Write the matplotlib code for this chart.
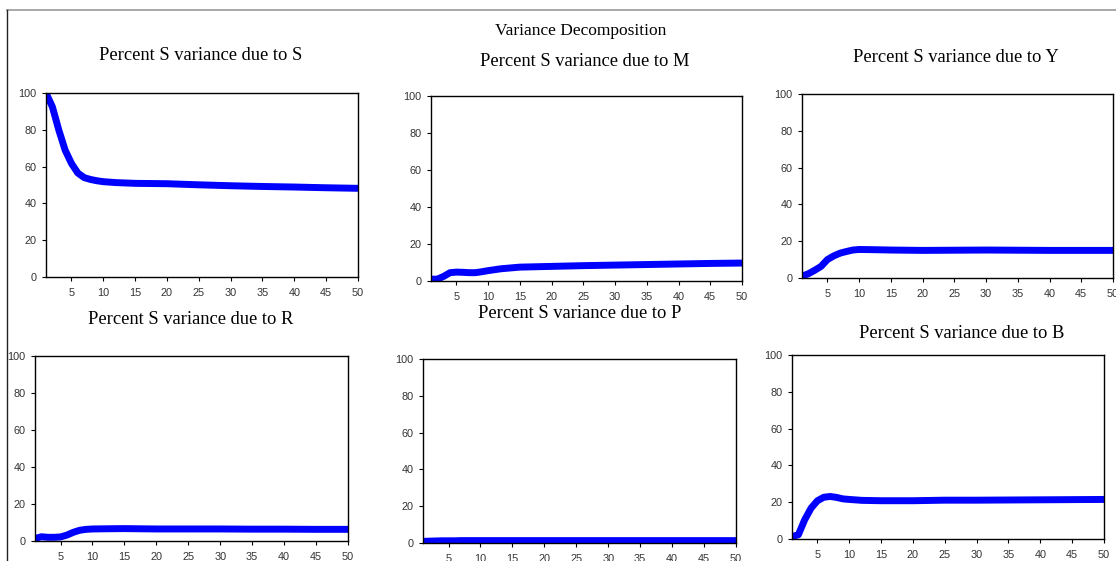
import numpy as np
import matplotlib
matplotlib.use("Agg")
import matplotlib.pyplot as plt
from matplotlib.lines import Line2D

## data
horizon = [1, 2, 3, 4, 5, 6, 7, 8, 9, 10, 12, 15, 20, 25, 30, 35, 40, 45, 50]

due_to_S = [100, 92.5, 80, 69, 61.7, 56.5, 54, 53, 52.3, 51.8, 51.3, 50.9, 50.7, 50.1, 49.6, 49.2, 48.9, 48.5, 48.2]
due_to_M = [1, 1, 2.5, 4.5, 4.8, 4.7, 4.5, 4.5, 5, 5.6, 6.6, 7.5, 7.9, 8.3, 8.6, 8.9, 9.2, 9.5, 9.7]
due_to_Y = [1, 2.3, 4.2, 6.3, 10, 12, 13.5, 14.4, 15.2, 15.5, 15.4, 15.2, 15, 15.1, 15.2, 15.1, 15, 15, 15]
due_to_R = [1.3, 2.3, 2, 2, 2.2, 3.2, 4.7, 5.8, 6.3, 6.5, 6.6, 6.7, 6.5, 6.5, 6.5, 6.4, 6.4, 6.3, 6.3]
due_to_P = [0.9, 1.0, 1.1, 1.2, 1.2, 1.2, 1.3, 1.3, 1.3, 1.3, 1.3, 1.3, 1.3, 1.3, 1.3, 1.3, 1.3, 1.3, 1.3]
due_to_B = [1.3, 2.3, 10.5, 16.8, 20.8, 22.7, 23.1, 22.6, 21.8, 21.5, 21, 20.8, 20.8, 21.1, 21.1, 21.2, 21.3, 21.4, 21.5]

shocks = ["S", "M", "Y", "R", "P", "B"]
series = [due_to_S, due_to_M, due_to_Y, due_to_R, due_to_P, due_to_B]

W, H = 1116, 561
# axes boxes in pixels: left, top, right, bottom
boxes = [(46, 93, 358, 277), (431, 96, 742, 281), (802, 94, 1113, 278),
         (35, 356, 348, 541), (423, 359, 736, 543), (792, 355, 1104, 539)]
# title centres in pixels
title_pos = [(201, 56), (585, 61), (956, 57), (191, 320), (580, 314), (962, 334)]

plt.rcParams['font.family'] = ['Liberation Sans', 'DejaVu Sans']

fig = plt.figure(figsize=(W / 100, H / 100), dpi=100)

# outer frame (top and left edges visible)
fig.add_artist(Line2D([7 / W, 1.0], [1 - 10 / H, 1 - 10 / H], transform=fig.transFigure,
                      color='#999999', lw=1.2))
fig.add_artist(Line2D([7 / W, 7 / W], [1 - 10 / H, 0], transform=fig.transFigure,
                      color='#222222', lw=1.0))

fig.text(581 / W, 1 - 31 / H, "Variance Decomposition", ha='center', va='center',
         family='Liberation Serif', fontsize=12.5)

for k in range(6):
    l, t, r, b = boxes[k]
    ax = fig.add_axes([l / W, 1 - b / H, (r - l) / W, (b - t) / H])
    ax.plot(horizon, series[k], color='#0000ff', lw=5, solid_capstyle='butt')
    ax.set_xlim(1, 50)
    ax.set_ylim(0, 100)
    ax.set_xticks(np.arange(5, 51, 5))
    ax.set_yticks(np.arange(0, 101, 20))
    ax.tick_params(direction='out', length=3, width=0.8, labelsize=7.8,
                   labelcolor='#333333')
    ax.tick_params(axis='x', pad=5)
    ax.tick_params(axis='y', pad=4)
    for sp in ax.spines.values():
        sp.set_linewidth(1.0)
    tx, ty = title_pos[k]
    fig.text(tx / W, 1 - ty / H, "Percent S variance due to " + shocks[k],
             ha='center', va='center', family='Liberation Serif', fontsize=13.3)

fig.savefig("out.png", dpi=100)
